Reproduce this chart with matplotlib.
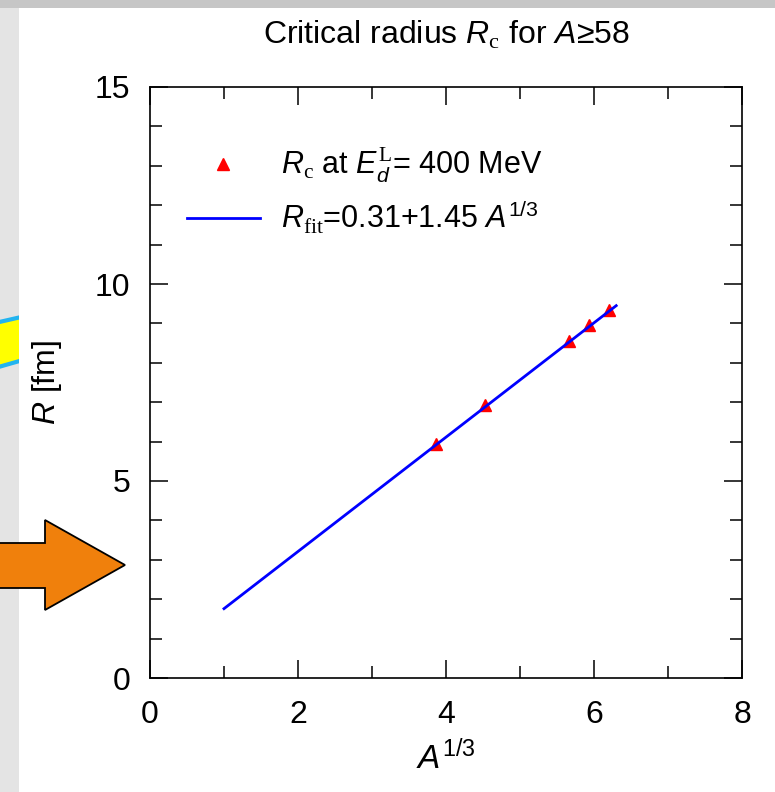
import matplotlib
matplotlib.use("Agg")
import matplotlib.pyplot as plt
from matplotlib.patches import Rectangle, Polygon

plt.rcParams['font.family'] = ['Liberation Sans', 'DejaVu Sans']
plt.rcParams['mathtext.fontset'] = 'custom'
plt.rcParams['mathtext.rm'] = 'Liberation Serif'
plt.rcParams['mathtext.it'] = 'Liberation Sans:italic'
plt.rcParams['mathtext.sf'] = 'Liberation Sans'

# data
a13 = [3.87, 4.53, 5.66, 5.93, 6.20]          # A^(1/3)
r_crit = [5.95, 6.92, 8.55, 8.95, 9.33]       # R_c [fm]
fit_x = [1.0, 6.3]
fit_y = [1.76, 9.45]                          # 0.31 + 1.45 x at the ends

W, H = 775, 792
fig = plt.figure(figsize=(W / 100, H / 100), dpi=100)
fig.patch.set_facecolor('#e4e4e4')

def fp(x, y):
    return (x / W, 1 - y / H)

# slide decorations behind / around the chart
yellow = Polygon([fp(-5, 323), fp(30, 315), fp(30, 358), fp(-5, 368)],
                 closed=True, facecolor='#ffff00', edgecolor='#22b4f0',
                 linewidth=3, transform=fig.transFigure, zorder=0)
fig.patches.append(yellow)
fig.patches.append(Rectangle(fp(0, 8), 1, 8 / H, transform=fig.transFigure,
                             facecolor='#c6c6c6', edgecolor='none', zorder=0))
fig.patches.append(Rectangle(fp(19, H), 1, 1 - 8 / H, transform=fig.transFigure,
                             facecolor='white', edgecolor='none', zorder=1))

ax = fig.add_axes([150 / W, 1 - 678 / H, 592 / W, 591 / H])
ax.set_zorder(2)

ax.plot(a13, r_crit, linestyle='none', marker='^', color='red',
        markersize=8, label=r'$R_\mathrm{c}$ at $E_d^\mathrm{L}$= 400 MeV', zorder=3)
ax.plot(fit_x, fit_y, color='blue', linewidth=2,
        label=r'$R_\mathrm{fit}$=0.31+1.45 $A^{\mathsf{1/3}}$', zorder=4)

ax.set_xlim(0, 8)
ax.set_ylim(0, 15)
ax.set_xticks([0, 2, 4, 6, 8])
ax.set_yticks([0, 5, 10, 15])
ax.set_xticks(range(0, 9), minor=True)
ax.set_yticks(range(0, 16), minor=True)
ax.tick_params(which='both', direction='in', top=True, right=True, width=1.1)
ax.tick_params(which='major', length=13, labelsize=23)
ax.tick_params(axis='x', which='major', pad=16)
ax.tick_params(axis='y', which='major', pad=14)
ax.tick_params(which='minor', length=8.5)
for s in ax.spines.values():
    s.set_linewidth(1.2)

ax.set_title(r'Critical radius $R_\mathrm{c}$ for $A$≥58', fontsize=23, pad=31)
ax.set_xlabel(r'$A^{\mathsf{1/3}}$', fontsize=24)
ax.set_ylabel(r'$R$ [fm]', fontsize=23)
ax.xaxis.set_label_coords(0.5, -0.105)
ax.yaxis.set_label_coords(-0.145, 0.5)

ax.legend(loc='upper left', bbox_to_anchor=(0.062, 0.9), frameon=False,
          fontsize=22, handlelength=2.4, handletextpad=0.7, labelspacing=0.45,
          borderpad=0, borderaxespad=0)

arrow = Polygon([fp(-5, 543), fp(45, 543), fp(45, 520), fp(125, 565),
                 fp(45, 610), fp(45, 588), fp(-5, 588)], closed=True,
                facecolor='#f0800c', edgecolor='black', linewidth=1.3,
                transform=fig.transFigure, zorder=5)
fig.patches.append(arrow)

fig.savefig('out.png', dpi=100)
